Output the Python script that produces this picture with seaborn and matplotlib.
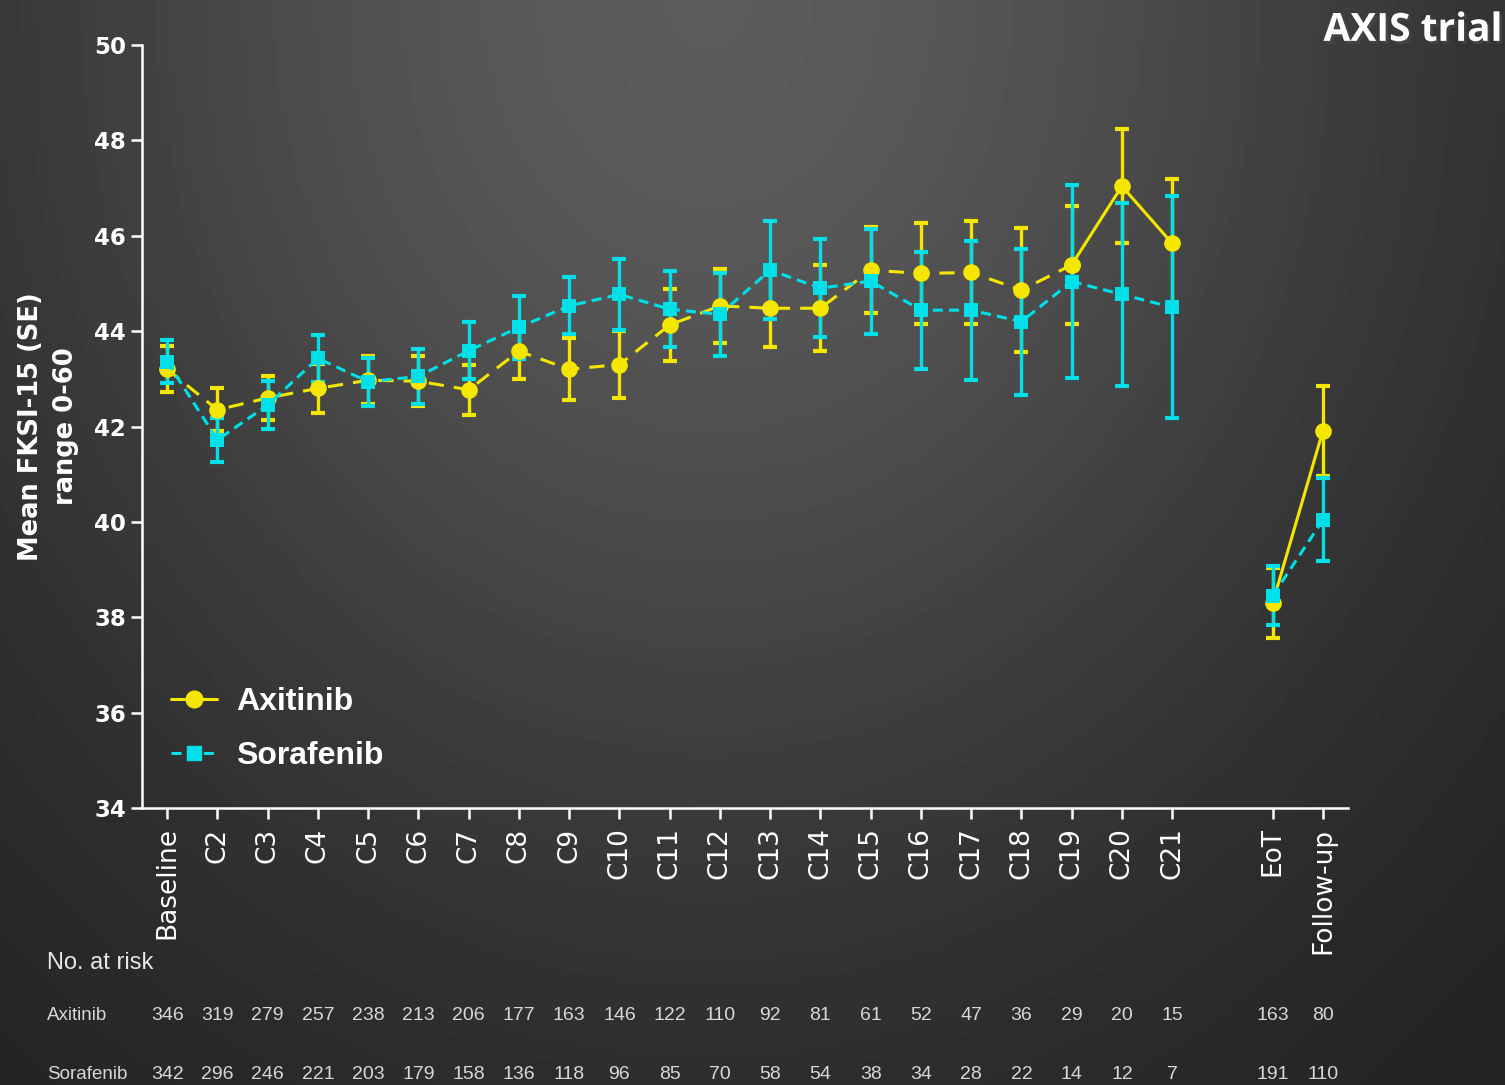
import numpy as np
import pandas as pd
import matplotlib.pyplot as plt
import matplotlib.transforms as mtransforms
import matplotlib.patheffects as pe
from matplotlib.lines import Line2D
import seaborn as sns

# timepoints (EoT / Follow-up sit after a one-slot gap)
labels = ['Baseline', 'C2', 'C3', 'C4', 'C5', 'C6', 'C7', 'C8', 'C9', 'C10', 'C11',
          'C12', 'C13', 'C14', 'C15', 'C16', 'C17', 'C18', 'C19', 'C20', 'C21',
          'EoT', 'Follow-up']
positions = list(range(21)) + [22, 23]

axi_mean = [43.2, 42.35, 42.6, 42.8, 42.97, 42.95, 42.77, 43.58, 43.2, 43.3, 44.13,
            44.53, 44.48, 44.48, 45.28, 45.21, 45.23, 44.86, 45.39, 47.04, 45.84,
            38.3, 41.91]
axi_se = [0.48, 0.45, 0.46, 0.52, 0.5, 0.53, 0.53, 0.58, 0.65, 0.7, 0.75,
          0.78, 0.82, 0.9, 0.91, 1.05, 1.07, 1.3, 1.24, 1.2, 1.35,
          0.73, 0.94]
sor_mean = [43.36, 41.72, 42.45, 43.43, 42.94, 43.05, 43.59, 44.08, 44.53, 44.77, 44.46,
            44.35, 45.28, 44.9, 45.05, 44.44, 44.44, 44.2, 45.04, 44.77, 44.5,
            38.45, 40.04]
sor_se = [0.45, 0.46, 0.51, 0.49, 0.5, 0.57, 0.6, 0.66, 0.6, 0.74, 0.8,
          0.87, 1.03, 1.03, 1.1, 1.23, 1.46, 1.53, 2.03, 1.92, 2.33,
          0.62, 0.87]

axi_n = [346, 319, 279, 257, 238, 213, 206, 177, 163, 146, 122, 110, 92, 81, 61, 52,
         47, 36, 29, 20, 15, 163, 80]
sor_n = [342, 296, 246, 221, 203, 179, 158, 136, 118, 96, 85, 70, 58, 54, 38, 34,
         28, 22, 14, 12, 7, 191, 110]

YELLOW = '#f5e600'
CYAN = '#00e0e8'

df = pd.DataFrame({
    'pos': positions * 2,
    'mean': axi_mean + sor_mean,
    'se': axi_se + sor_se,
    'arm': ['Axitinib'] * len(labels) + ['Sorafenib'] * len(labels),
})

sns.set_style('ticks')
plt.rcParams['font.family'] = ['DejaVu Sans']
plt.rcParams['text.color'] = 'white'
plt.rcParams['axes.labelcolor'] = 'white'
plt.rcParams['xtick.color'] = 'white'
plt.rcParams['ytick.color'] = 'white'

fig = plt.figure(figsize=(15.05, 10.85), dpi=100)

# dark radial background, lighter at the top centre
bg = fig.add_axes([0, 0, 1, 1], zorder=-10)
gx, gy = np.meshgrid(np.linspace(0, 1, 300), np.linspace(0, 1, 220))
d2 = ((gx - 0.47) / 0.6) ** 2 + gy ** 2
val = 0.12 + 0.24 * np.exp(-1.4 * d2)
bg.imshow(val, cmap='gray', vmin=0, vmax=1, aspect='auto', extent=(0, 1, 1, 0))
bg.set_axis_off()

ax = fig.add_axes([0.0944, 0.2553, 0.8013, 0.7032])
ax.set_facecolor('none')

yellow_dash = (0, (5, 3.3))
cyan_dash = (0, (3.3, 2.0))
# yellow is dashed up to C19, then solid; cyan dashed throughout
segments = [(0, 19, True), (18, 21, False), (21, 23, False)]
for arm, color, marker, ms in [('Axitinib', YELLOW, 'o', 12),
                               ('Sorafenib', CYAN, 's', 9.5)]:
    sub = df[df['arm'] == arm].reset_index(drop=True)
    ax.errorbar(sub['pos'], sub['mean'], yerr=sub['se'], fmt='none', ecolor=color,
                elinewidth=2.4, capsize=5, capthick=3, zorder=3)
    for start, stop, dashed in segments:
        part = sub.iloc[start:stop]
        if arm == 'Sorafenib':
            style = cyan_dash
        else:
            style = yellow_dash if dashed else '-'
        sns.lineplot(data=part, x='pos', y='mean', ax=ax, color=color, lw=2.2,
                     linestyle=style, marker=marker, markersize=ms,
                     markeredgewidth=0, estimator=None, sort=False, zorder=4)

ax.set_xlim(-0.5, 23.5)
ax.set_ylim(34, 50)
ax.set_yticks(np.arange(34, 51, 2))
ax.set_xticks(positions)
ax.set_xticklabels(labels, rotation=90, fontsize=19)
for t in ax.get_yticklabels():
    t.set_fontsize(16.5)
    t.set_fontweight('bold')
ax.tick_params(axis='both', length=8, width=1.8, colors='white')
ax.tick_params(axis='x', pad=6)
sns.despine(ax=ax)
for side in ['left', 'bottom']:
    ax.spines[side].set_color('white')
    ax.spines[side].set_linewidth(1.8)

ax.set_xlabel('')
ax.set_ylabel('Mean FKSI-15 (SE)\nrange 0-60', fontsize=18.5, fontweight='bold',
              linespacing=1.45)
ax.yaxis.set_label_coords(-0.052, 0.5)

handles = [Line2D([], [], color=YELLOW, lw=2.2, marker='o', markersize=12),
           Line2D([], [], color=CYAN, lw=2.2, ls=cyan_dash, marker='s',
                  markersize=9.5)]
leg = ax.legend(handles, ['Axitinib', 'Sorafenib'], loc='lower left',
                bbox_to_anchor=(0.0, 0.011), frameon=False, handlelength=1.45,
                handletextpad=0.6, labelspacing=0.75,
                prop={'family': ['Liberation Sans', 'DejaVu Sans'], 'weight': 'bold',
                      'size': 23})
for t in leg.get_texts():
    t.set_color('white')

fig.text(0.998, 0.972, 'AXIS trial', ha='right', va='center', fontsize=28,
         fontweight='bold', family=['Open Sans', 'DejaVu Sans'], color='white',
         path_effects=[pe.withSimplePatchShadow(offset=(2, -2), alpha=0.6)])

# number at risk table
narrow = ['Liberation Sans', 'DejaVu Sans']
trans = mtransforms.blended_transform_factory(ax.transData, fig.transFigure)
fig.text(0.031, 0.1124, 'No. at risk', ha='left', va='center', fontsize=17,
         family=narrow, color='#e8e8e8')
for name, counts, y in [('Axitinib', axi_n, 0.0645), ('Sorafenib', sor_n, 0.0101)]:
    fig.text(0.031, y, name, ha='left', va='center', fontsize=13.5, family=narrow,
             color='#d8d8d8')
    for p, n in zip(positions, counts):
        ax.text(p, y, str(n), transform=trans, ha='center', va='center',
                fontsize=14, family=narrow, color='#d8d8d8')

fig.savefig('out.png', dpi=100, facecolor='#2a2a2a')
